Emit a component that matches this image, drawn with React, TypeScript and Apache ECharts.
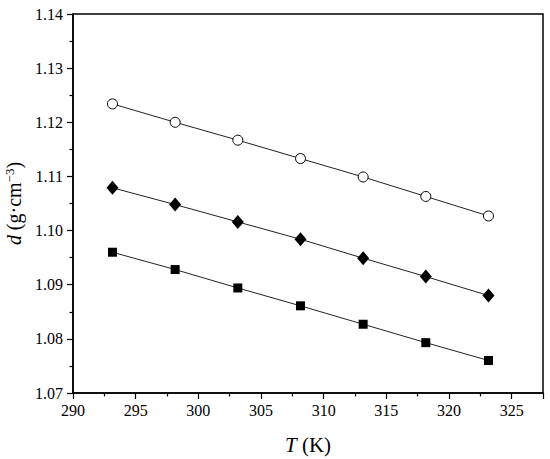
import { useEffect, useRef } from "react";
import * as echarts from "echarts";

const temps = [293.15, 298.15, 303.15, 308.15, 313.15, 318.15, 323.15];
const circleVals = [1.1234, 1.12, 1.1167, 1.1133, 1.1099, 1.1063, 1.1027];
const diamondVals = [1.1079, 1.1048, 1.1016, 1.0984, 1.0949, 1.0915, 1.088];
const squareVals = [1.096, 1.0928, 1.0894, 1.0861, 1.0827, 1.0793, 1.076];

const font = "'Liberation Serif', 'Times New Roman', serif";

const pairs = (ys: number[]) => temps.map((t, i) => [t, ys[i]]);

const App = () => {
  const chartRef = useRef(null);

  useEffect(() => {
    const chart = echarts.init(chartRef.current, null, { renderer: "svg" });

    const axisCommon = {
      axisLine: { show: true, lineStyle: { color: "#000", width: 1.5 } },
      axisTick: { show: true, length: 6, lineStyle: { color: "#000", width: 1.2 } },
      minorTick: { show: true, splitNumber: 2, length: 3.5, lineStyle: { color: "#000", width: 1.2 } },
      splitLine: { show: false },
      axisLabel: { color: "#000", fontFamily: font, fontSize: 16 },
    };

    const lineSeries = (name: string, ys: number[], symbol: string, size: any, fill: string) => ({
      name,
      type: "line",
      data: pairs(ys),
      symbol,
      symbolSize: size,
      lineStyle: { color: "#222", width: 1 },
      itemStyle: { color: fill, borderColor: "#000", borderWidth: fill === "#fff" ? 1 : 0 },
      z: 3,
    });

    chart.setOption({
      animation: false,
      grid: {
        left: 73,
        right: 7,
        top: 14,
        bottom: 66,
        containLabel: false,
        outerBoundsMode: "none",
        show: true,
        borderColor: "#000",
        borderWidth: 1.5,
        backgroundColor: "transparent",
      },
      xAxis: {
        type: "value",
        min: 290,
        max: 327.5,
        interval: 5,
        ...axisCommon,
        axisLabel: { ...axisCommon.axisLabel, margin: 9, showMaxLabel: false },
        name: "{i|T} (K)",
        nameLocation: "middle",
        nameGap: 41,
        nameTextStyle: {
          color: "#000",
          fontFamily: font,
          fontSize: 21,
          rich: { i: { fontStyle: "italic", fontFamily: font, fontSize: 21, color: "#000" } },
        },
      },
      yAxis: {
        type: "value",
        min: 1.07,
        max: 1.14,
        interval: 0.01,
        ...axisCommon,
        axisLabel: {
          ...axisCommon.axisLabel,
          margin: 10,
          formatter: (v: number) => v.toFixed(2),
        },
        name: "{i|d} (g·cm{s|−3})",
        nameLocation: "middle",
        nameGap: 47,
        nameTextStyle: {
          color: "#000",
          fontFamily: font,
          fontSize: 20,
          rich: {
            i: { fontStyle: "italic", fontFamily: font, fontSize: 20, color: "#000" },
            s: { fontFamily: font, fontSize: 13, color: "#000", verticalAlign: "top", padding: [0, 0, 10, 0] },
          },
        },
      },
      series: [
        lineSeries("circle", circleVals, "circle", 10, "#fff"),
        lineSeries("diamond", diamondVals, "diamond", [12, 14], "#000"),
        lineSeries("square", squareVals, "rect", 9, "#000"),
      ],
    });

    return () => {
      chart.dispose();
    };
  }, []);

  return (
    <div
      ref={chartRef}
      style={{ position: "fixed", left: 0, top: 0, width: 550, height: 459, background: "#fff" }}
    />
  );
};

export default App;
